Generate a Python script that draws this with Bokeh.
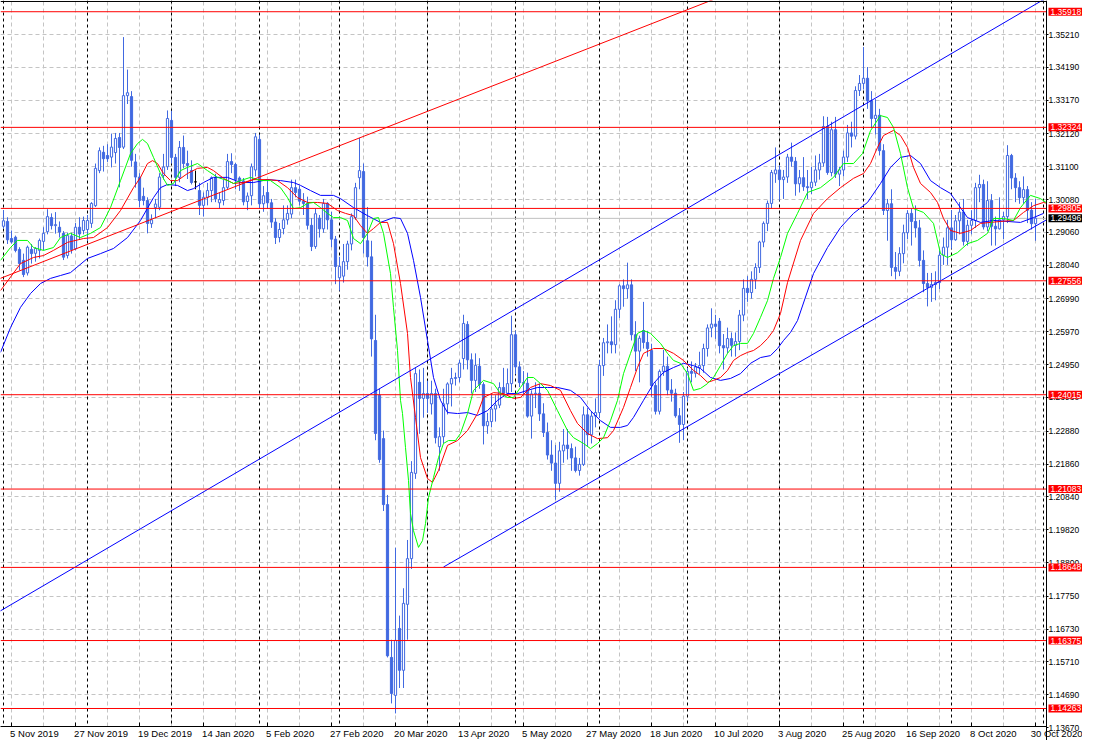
import pandas as pd
from bokeh.plotting import figure
from bokeh.models import Range1d, FixedTicker, PrintfTickFormatter, Span, Label, ColumnDataSource, LinearAxis
from bokeh.embed import file_html
from bokeh.resources import INLINE

# ---------------- data ----------------
holidays = ["2019-12-25", "2020-01-01"]
dates = [d for d in pd.bdate_range("2019-11-01", "2020-10-30") if d.strftime("%Y-%m-%d") not in holidays]

open_ = [
 1.2925,1.2940,1.2887,1.2891,1.2853,1.2819,1.2780,1.2853,1.2841,1.2850,1.2878,1.2908,1.2952,1.2927,1.2922,1.2903,1.2834,1.2895,1.2855,1.2922,1.2912,
 1.2915,1.2934,1.2989,1.3098,1.3155,1.3145,1.3140,1.3154,1.3201,1.3171,1.3331,1.3328,1.3125,1.3078,1.3018,1.3005,1.2933,1.2983,1.2984,1.3083,1.3110,
 1.3254,1.3139,1.3077,1.3170,1.3120,1.3098,1.3063,1.3036,1.2990,1.3015,1.3036,1.3076,1.2998,1.3005,1.3046,1.3126,1.3117,1.3075,1.3066,1.3002,1.3020,1.3100,
 1.3195,1.2995,1.3030,1.2998,1.2938,1.2890,1.2918,1.2945,1.2963,1.3045,1.3040,1.3003,1.2996,1.2928,1.2862,1.2950,1.2917,1.2996,1.2945,1.2885,
 1.2765,1.2770,1.2815,1.2870,1.2952,1.3076,1.3095,1.2880,1.2830,1.2570,1.2400,1.2265,1.2060,1.1585,1.1467,1.1675,1.1545,1.1750,1.1892,1.2157,1.2440,1.2390,
 1.2405,1.2373,1.2405,1.2240,1.2271,1.2373,1.2435,1.2452,1.2455,1.2514,1.2620,1.2510,1.2446,1.2490,1.2433,1.2305,1.2318,1.2357,1.2369,1.2424,1.2406,1.2436,
 1.2588,1.2488,1.2439,1.2437,1.2335,1.2404,1.2406,1.2342,1.2284,1.2214,1.2189,1.2126,1.2227,1.2245,1.2234,1.2205,1.2166,1.2185,1.2339,1.2277,1.2335,
 1.2346,1.2492,1.2563,1.2566,1.2557,1.2667,1.2740,1.2731,1.2743,1.2588,1.2537,1.2601,1.2564,1.2539,1.2430,1.2350,1.2474,1.2490,1.2416,1.2406,1.2336,1.2309,
 1.2397,1.2474,1.2468,1.2485,1.2492,1.2545,1.2609,1.2621,1.2630,1.2554,1.2547,1.2576,1.2555,1.2567,1.2649,1.2732,1.2719,1.2760,1.2797,1.2876,1.2934,1.2996,1.3088,
 1.3100,1.3070,1.3078,1.3140,1.3127,1.3057,1.3076,1.3048,1.3045,1.3062,1.3100,1.3122,1.3235,1.3092,1.3225,1.3087,1.3100,1.3140,1.3215,1.3205,1.3347,
 1.3369,1.3385,1.3315,1.3260,1.3270,1.3160,1.2974,1.2995,1.2797,1.2785,1.2840,1.2905,1.2965,1.2940,1.2920,1.2819,1.2747,1.2735,1.2744,1.2750,1.2835,1.2860,
 1.2920,1.2883,1.2942,1.2969,1.2878,1.2928,1.2943,1.3045,1.3055,1.2923,1.3005,1.2925,1.2917,1.2945,1.2955,1.3145,1.3075,1.3045,1.3014,1.3039,1.2975,1.2933,
]
high = [
 1.2975,1.2953,1.2912,1.2896,1.2860,1.2840,1.2865,1.2870,1.2860,1.2887,1.2922,1.2978,1.2965,1.2969,1.2940,1.2910,1.2905,1.2905,1.2935,1.2953,1.2955,
 1.2960,1.3000,1.3120,1.3170,1.3175,1.3180,1.3213,1.3215,1.3215,1.3513,1.3412,1.3345,1.3150,1.3090,1.3045,1.3015,1.2962,1.3010,1.3090,1.3150,1.3285,
 1.3284,1.3150,1.3190,1.3207,1.3160,1.3130,1.3098,1.3060,1.3030,1.3060,1.3080,1.3088,1.3030,1.3070,1.3150,1.3152,1.3122,1.3080,1.3075,1.3030,1.3120,1.3215,
 1.3210,1.3050,1.3070,1.3010,1.2950,1.2935,1.2990,1.2990,1.3070,1.3070,1.3050,1.3028,1.3017,1.2950,1.2980,1.2960,1.3010,1.3000,1.2970,1.2895,
 1.2830,1.2870,1.2880,1.2965,1.3060,1.3200,1.3120,1.2985,1.2880,1.2650,1.2420,1.2290,1.2090,1.1640,1.1926,1.1715,1.1800,1.1950,1.2195,1.2486,1.2480,1.2485,
 1.2445,1.2445,1.2420,1.2300,1.2420,1.2440,1.2485,1.2470,1.2510,1.2650,1.2630,1.2530,1.2530,1.2515,1.2440,1.2345,1.2405,1.2400,1.2440,1.2485,1.2483,1.2647,
 1.2600,1.2505,1.2475,1.2470,1.2415,1.2440,1.2435,1.2375,1.2315,1.2260,1.2245,1.2255,1.2295,1.2295,1.2250,1.2240,1.2205,1.2365,1.2360,1.2350,1.2390,
 1.2510,1.2578,1.2620,1.2645,1.2695,1.2745,1.2760,1.2812,1.2760,1.2630,1.2585,1.2690,1.2600,1.2560,1.2440,1.2480,1.2541,1.2520,1.2450,1.2420,1.2360,1.2410,
 1.2485,1.2505,1.2500,1.2535,1.2560,1.2620,1.2670,1.2650,1.2640,1.2590,1.2610,1.2595,1.2595,1.2665,1.2760,1.2770,1.2785,1.2810,1.2880,1.2940,1.3005,1.3100,1.3170,
 1.3115,1.3100,1.3150,1.3185,1.3140,1.3100,1.3140,1.3100,1.3110,1.3145,1.3150,1.3267,1.3265,1.3250,1.3265,1.3110,1.3160,1.3240,1.3250,1.3360,1.3395,
 1.3482,1.3420,1.3345,1.3320,1.3290,1.3180,1.3010,1.3040,1.2845,1.2860,1.2930,1.2975,1.2980,1.2990,1.2945,1.2850,1.2780,1.2780,1.2785,1.2850,1.2890,1.2945,
 1.2975,1.2960,1.3000,1.3010,1.2945,1.2975,1.3060,1.3085,1.3070,1.3065,1.3025,1.2955,1.3015,1.2970,1.3177,1.3150,1.3090,1.3065,1.3080,1.3050,1.3000,1.3010,
]
low = [
 1.2918,1.2870,1.2871,1.2844,1.2788,1.2767,1.2772,1.2809,1.2815,1.2825,1.2850,1.2900,1.2915,1.2902,1.2890,1.2820,1.2825,1.2840,1.2850,1.2883,1.2900,
 1.2880,1.2920,1.2985,1.3090,1.3095,1.3125,1.3108,1.3120,1.3046,1.3165,1.3305,1.3110,1.3045,1.2985,1.2990,1.2903,1.2920,1.2950,1.2975,1.3070,1.3100,
 1.3120,1.3050,1.3062,1.3105,1.3072,1.3055,1.3040,1.2960,1.2955,1.2990,1.3000,1.3000,1.2980,1.2990,1.3040,1.3090,1.3040,1.3035,1.2990,1.2975,1.2990,1.3080,
 1.2980,1.2970,1.2980,1.2920,1.2870,1.2875,1.2900,1.2930,1.2950,1.3015,1.2990,1.2960,1.2915,1.2848,1.2855,1.2890,1.2905,1.2915,1.2860,1.2745,
 1.2725,1.2750,1.2790,1.2850,1.2945,1.3040,1.2840,1.2800,1.2520,1.2260,1.2190,1.2040,1.1585,1.1442,1.1411,1.1490,1.1490,1.1640,1.1860,1.2140,1.2280,1.2330,
 1.2345,1.2340,1.2250,1.2165,1.2250,1.2340,1.2365,1.2430,1.2440,1.2480,1.2480,1.2405,1.2410,1.2420,1.2247,1.2280,1.2300,1.2318,1.2360,1.2395,1.2400,1.2410,
 1.2465,1.2425,1.2400,1.2330,1.2265,1.2360,1.2320,1.2270,1.2200,1.2165,1.2075,1.2100,1.2190,1.2200,1.2165,1.2160,1.2150,1.2180,1.2240,1.2250,1.2300,
 1.2330,1.2460,1.2530,1.2530,1.2530,1.2640,1.2675,1.2700,1.2570,1.2475,1.2440,1.2545,1.2520,1.2395,1.2340,1.2340,1.2460,1.2400,1.2380,1.2330,1.2252,1.2260,
 1.2380,1.2440,1.2455,1.2465,1.2470,1.2520,1.2580,1.2575,1.2530,1.2480,1.2530,1.2520,1.2520,1.2540,1.2630,1.2690,1.2700,1.2730,1.2780,1.2860,1.2910,1.2980,1.3060,
 1.3005,1.3010,1.3060,1.3110,1.3020,1.3030,1.3035,1.3010,1.3025,1.3050,1.3070,1.3110,1.3085,1.3080,1.3075,1.3050,1.3080,1.3125,1.3170,1.3195,1.3330,
 1.3350,1.3290,1.3230,1.3210,1.3145,1.2960,1.2880,1.2770,1.2760,1.2770,1.2810,1.2885,1.2865,1.2890,1.2800,1.2720,1.2676,1.2690,1.2695,1.2730,1.2805,1.2805,
 1.2855,1.2880,1.2900,1.2865,1.2865,1.2900,1.2920,1.3000,1.2915,1.2910,1.2865,1.2865,1.2915,1.2885,1.2935,1.3040,1.3000,1.2995,1.2995,1.2935,1.2915,1.2880,
]
close = [
 1.2942,1.2883,1.2876,1.2850,1.2809,1.2775,1.2860,1.2840,1.2856,1.2881,1.2903,1.2955,1.2927,1.2930,1.2907,1.2829,1.2896,1.2852,1.2922,1.2901,1.2943,
 1.2943,1.2996,1.3105,1.3160,1.3135,1.3135,1.3171,1.3198,1.3170,1.3331,1.3340,1.3130,1.3078,1.3005,1.3005,1.2934,1.2945,1.2994,1.3078,1.3109,1.3260,
 1.3139,1.3077,1.3170,1.3120,1.3114,1.3061,1.3063,1.2990,1.3015,1.3036,1.3076,1.3010,1.3008,1.3045,1.3126,1.3117,1.3070,1.3065,1.3001,1.3019,1.3110,1.3203,
 1.2995,1.3020,1.2998,1.2938,1.2890,1.2915,1.2945,1.2965,1.3045,1.3030,1.3003,1.2996,1.2928,1.2862,1.2964,1.2917,1.2996,1.2945,1.2885,1.2800,
 1.2800,1.2815,1.2870,1.2955,1.3045,1.3098,1.2890,1.2830,1.2575,1.2281,1.2200,1.2060,1.1590,1.1473,1.1638,1.1545,1.1753,1.1892,1.2160,1.2467,1.2390,1.2405,
 1.2390,1.2405,1.2268,1.2271,1.2373,1.2435,1.2452,1.2455,1.2500,1.2623,1.2510,1.2446,1.2493,1.2433,1.2305,1.2318,1.2357,1.2369,1.2424,1.2406,1.2436,1.2588,
 1.2488,1.2439,1.2437,1.2335,1.2404,1.2406,1.2342,1.2284,1.2214,1.2189,1.2126,1.2227,1.2245,1.2234,1.2205,1.2166,1.2185,1.2339,1.2277,1.2335,1.2346,
 1.2492,1.2563,1.2566,1.2557,1.2667,1.2740,1.2731,1.2743,1.2588,1.2537,1.2577,1.2564,1.2545,1.2430,1.2350,1.2474,1.2490,1.2416,1.2406,1.2336,1.2309,1.2397,
 1.2474,1.2468,1.2488,1.2492,1.2545,1.2609,1.2621,1.2614,1.2554,1.2547,1.2576,1.2555,1.2567,1.2649,1.2732,1.2719,1.2760,1.2797,1.2876,1.2934,1.2996,1.3092,1.3100,
 1.3070,1.3078,1.3140,1.3127,1.3057,1.3076,1.3048,1.3045,1.3062,1.3100,1.3122,1.3235,1.3092,1.3225,1.3087,1.3100,1.3140,1.3215,1.3205,1.3347,1.3369,
 1.3385,1.3315,1.3260,1.3270,1.3160,1.2974,1.2995,1.2797,1.2785,1.2840,1.2905,1.2965,1.2940,1.2920,1.2819,1.2747,1.2735,1.2744,1.2750,1.2835,1.2860,1.2920,
 1.2883,1.2942,1.2969,1.2878,1.2928,1.2943,1.3045,1.3055,1.2923,1.3005,1.2925,1.2917,1.2945,1.2955,1.3145,1.3075,1.3045,1.3014,1.3039,1.2975,1.2933,1.2950,
]

# Alligator lines (bar index, price)
lips_x = [-0.75,1.75,3.5,6,7.5,10,12.5,14.25,16.75,19.25,21.75,24.25,26.75,29.25,31.75,33.5,34.75,36,37.5,39.25,41,42.5,44.25,46,48.5,51,53.5,56,57.5,59.25,61.75,64.25,66.75,69.25,71,72.5,74.25,76,77.5,79.25,81,82.5,84.25,86,87.5,89.25,91,92.5,93.75,95,96.75,97.5,98.5,99.25,99.75,100.5,101.25,101.75,102.5,103.75,104.75,105.5,106.25,107.5,108.75,110,111.25,113,114.25,116,117.5,120,122.5,124.25,126,127.5,129.25,131,132.5,134.25,136,138.5,141,142.5,145,146.75,148.5,150,151.75,153.5,155,156.75,158.5,160,161.75,164.25,166,167.5,169.25,171,172.5,174.25,176,177.5,179.25,181,182.5,184.25,186,187.5,189.25,191,192.5,194.25,196,198.5,201,204.25,207.5,210,212.5,214.75,216.75,219.25,221,222.5,224.25,226,227.5,230,232.5,234.25,236,238.5,241,243.5,246,247.5,250,252.5,254.25,256.75,259.25,261]
lips_y = [1.2819,1.2859,1.2881,1.2881,1.2859,1.2850,1.2859,1.2890,1.2903,1.2890,1.2903,1.2921,1.2983,1.3067,1.3151,1.3182,1.3195,1.3182,1.3139,1.3089,1.3052,1.3058,1.3098,1.3108,1.3120,1.3098,1.3077,1.3067,1.3058,1.3067,1.3077,1.3067,1.3067,1.3045,1.3014,1.2980,1.2983,1.2996,1.2999,1.2983,1.2965,1.2952,1.2952,1.2943,1.2887,1.2871,1.2903,1.2949,1.2952,1.2903,1.2778,1.2672,1.2539,1.2384,1.2343,1.2237,1.2135,1.2032,1.1979,1.1927,1.1948,1.2001,1.2082,1.2144,1.2206,1.2250,1.2259,1.2259,1.2281,1.2343,1.2415,1.2446,1.2436,1.2405,1.2393,1.2393,1.2424,1.2455,1.2455,1.2436,1.2415,1.2352,1.2290,1.2268,1.2250,1.2234,1.2250,1.2268,1.2321,1.2384,1.2467,1.2530,1.2592,1.2601,1.2592,1.2561,1.2530,1.2508,1.2499,1.2467,1.2415,1.2421,1.2436,1.2455,1.2492,1.2530,1.2554,1.2561,1.2561,1.2592,1.2642,1.2694,1.2763,1.2828,1.2903,1.2965,1.3030,1.3045,1.3077,1.3120,1.3120,1.3151,1.3222,1.3269,1.3263,1.3232,1.3151,1.3045,1.2980,1.2968,1.2934,1.2840,1.2828,1.2843,1.2871,1.2881,1.2903,1.2949,1.2949,1.2943,1.2983,1.3021,1.3011,1.2996]

teeth_x = [-0.75,4.25,7.5,10,12.5,16,20,22.5,26,29.25,32.5,34.25,36,37.25,38.5,40,41.75,43.5,46,48.5,51,52.5,55,57.5,60,62.5,66,68.5,71,73.5,76,78.5,81,83.5,85.5,87.5,89.25,91,92.5,94.25,96,97.5,99.25,101,101.75,103,104.25,106,107.25,108.75,111,113.5,116,118.5,120,122.5,125,127.5,129.25,131.75,134.25,136.75,139.25,141.75,143.5,146,148.5,151,152.5,155,156.75,158.5,160,162.5,165,167.5,170,172.5,174.25,176,177.5,179.25,181,182.5,184.25,186,187.5,189.25,191,192.5,194.25,196,199.25,202.5,206,209.25,212.5,215,216.75,218.5,220,222.5,224.25,226,227.5,229.25,231.75,233.5,235,236.75,239.25,241.75,244.25,246.75,249.25,252.5,255,257.5,260,261]
teeth_y = [1.2725,1.2809,1.2828,1.2834,1.2850,1.2875,1.2887,1.2890,1.2921,1.2974,1.3045,1.3077,1.3120,1.3129,1.3120,1.3089,1.3067,1.3067,1.3089,1.3105,1.3108,1.3098,1.3074,1.3058,1.3061,1.3070,1.3070,1.3067,1.3045,1.3014,1.2999,1.2999,1.2996,1.2974,1.2965,1.2958,1.2927,1.2903,1.2918,1.2937,1.2937,1.2871,1.2747,1.2592,1.2455,1.2331,1.2206,1.2141,1.2129,1.2166,1.2244,1.2259,1.2290,1.2343,1.2393,1.2408,1.2405,1.2390,1.2393,1.2424,1.2436,1.2430,1.2415,1.2352,1.2312,1.2281,1.2265,1.2268,1.2290,1.2362,1.2424,1.2486,1.2530,1.2545,1.2545,1.2530,1.2508,1.2477,1.2461,1.2440,1.2446,1.2455,1.2477,1.2508,1.2523,1.2533,1.2539,1.2554,1.2576,1.2601,1.2654,1.2750,1.2881,1.2965,1.3011,1.3045,1.3074,1.3089,1.3120,1.3170,1.3207,1.3223,1.3207,1.3170,1.3108,1.3058,1.3030,1.2999,1.2949,1.2912,1.2903,1.2912,1.2934,1.2937,1.2940,1.2943,1.2968,1.2989,1.2999,1.2996]

jaw_x = [-0.75,1.75,4.25,6.75,9.25,11.75,14.25,16.75,21,24.25,27.5,31,34.25,37.5,39.25,41,43.5,46,47.5,50,52.5,56,59.25,62.5,66,69.25,72.5,74.25,76.75,79.25,82.5,84.25,87.5,91,94.25,97.5,99.25,101,102.5,104.25,106,107.5,109.25,111,113.5,116,118.5,121,123.5,126,128.5,131,133.5,136,138.5,141.75,144.25,146.75,149.25,151.75,154.25,156,157.5,160,162.5,165,167.5,170,172.5,174.25,176.75,179.25,181.75,184.25,186.75,189.25,191.75,193.5,195,196.75,198.5,202.5,206,209.25,212.5,216,219.25,221.75,224.25,226.75,229.25,231.75,234.25,236.75,238.5,241,244.25,247.5,251,254.25,257.5,260]
jaw_y = [1.2533,1.2610,1.2673,1.2716,1.2747,1.2763,1.2772,1.2781,1.2825,1.2840,1.2856,1.2890,1.2943,1.3014,1.3045,1.3055,1.3052,1.3036,1.3042,1.3061,1.3077,1.3077,1.3061,1.3061,1.3070,1.3067,1.3061,1.3052,1.3036,1.3021,1.3021,1.3011,1.2983,1.2958,1.2937,1.2952,1.2949,1.2903,1.2819,1.2704,1.2570,1.2455,1.2384,1.2346,1.2343,1.2346,1.2337,1.2352,1.2384,1.2405,1.2405,1.2415,1.2424,1.2424,1.2424,1.2415,1.2393,1.2352,1.2321,1.2300,1.2300,1.2306,1.2331,1.2384,1.2436,1.2471,1.2486,1.2499,1.2492,1.2483,1.2455,1.2446,1.2452,1.2467,1.2499,1.2517,1.2523,1.2545,1.2570,1.2595,1.2632,1.2778,1.2859,1.2921,1.2965,1.2999,1.3058,1.3108,1.3139,1.3145,1.3120,1.3067,1.3045,1.3027,1.2996,1.2952,1.2937,1.2943,1.2940,1.2937,1.2952,1.2965]

# drawn objects
red_tl_x, red_tl_y = [-1, 180], [1.2762, 1.3642]
chan_up_x, chan_up_y = [-1, 262], [1.1728, 1.3644]
chan_lo_x, chan_lo_y = [110, 262], [1.1866, 1.2954]
red_levels = [1.35918, 1.32324, 1.29805, 1.27556, 1.24015, 1.21083, 1.18648, 1.16375, 1.14263]
bid = 1.29496

y_ticks = [1.35210, 1.34190, 1.33170, 1.32120, 1.31100, 1.30080, 1.29060, 1.28040, 1.26990, 1.25970, 1.24950,
           1.23930, 1.22880, 1.21860, 1.20840, 1.19820, 1.18800, 1.17750, 1.16730, 1.15710, 1.14690, 1.13670]

# ---------------- layout constants ----------------
CANDLE = "#4169E1"
FONT = "Liberation Sans"
X0, X1 = -0.75, 269.75          # bar-index range across the canvas
Y0, Y1 = 1.13268, 1.36267       # price range down/up the canvas
PRICE_AXIS_AT = 260.75          # bar-index position of the price scale
TIME_AXIS_AT = 1.13703          # price position of the time scale
TOP_EDGE = 1.36236
TAG_X = 261.25

p = figure(width=1082, height=740, x_range=Range1d(X0, X1), y_range=Range1d(Y0, Y1),
           y_axis_location="right", output_backend="svg", toolbar_location=None,
           min_border_left=0, min_border_top=0, min_border_right=0, min_border_bottom=0)
p.outline_line_color = None
p.background_fill_color = "white"
p.border_fill_color = "white"

# grid
p.xgrid.ticker = FixedTicker(ticks=list(range(2, 262, 8)))
p.ygrid.ticker = FixedTicker(ticks=y_ticks)
p.grid.grid_line_color = "#C4C4C4"
p.grid.grid_line_dash = "4 3"
p.grid.grid_line_width = 1

# month separators
seps = [i for i in range(len(dates)) if i == 0 or dates[i].month != dates[i - 1].month] + [len(dates) + 1]
for s in seps:
    p.add_layout(Span(location=s, dimension="height", line_color="black", line_dash="3 3", line_width=1, level="underlay"))

# bid line
p.segment(x0=[X0], y0=[bid], x1=[PRICE_AXIS_AT], y1=[bid], line_color="#C0C0C0", line_width=1)

# candles
xs = list(range(len(dates)))
body_fill, body_line = [], []
for o, c in zip(open_, close):
    if c > o:
        body_fill.append("white"); body_line.append(CANDLE)
    elif c < o:
        body_fill.append(CANDLE); body_line.append(CANDLE)
    else:
        body_fill.append("black"); body_line.append("black")
src = ColumnDataSource(dict(x=xs, h=high, l=low,
                            top=[max(a, b) for a, b in zip(open_, close)],
                            bot=[min(a, b) for a, b in zip(open_, close)],
                            fill=body_fill, line=body_line))
p.segment(x0="x", y0="l", x1="x", y1="h", line_color="line", line_width=1, source=src)
p.vbar(x="x", width=0.55, top="top", bottom="bot", fill_color="fill", line_color="line", line_width=1, source=src)

# alligator
p.line(jaw_x, jaw_y, line_color="#0000FF", line_width=1)
p.line(teeth_x, teeth_y, line_color="#FF0000", line_width=1)
p.line(lips_x, lips_y, line_color="#00FF00", line_width=1)

# trendlines / channel
p.line(red_tl_x, red_tl_y, line_color="#FF0000", line_width=1)
p.line(chan_up_x, chan_up_y, line_color="#0000FF", line_width=1)
p.line(chan_lo_x, chan_lo_y, line_color="#0000FF", line_width=1)

# horizontal levels
p.segment(x0=[X0] * len(red_levels), y0=red_levels, x1=[PRICE_AXIS_AT] * len(red_levels), y1=red_levels,
          line_color="#FF0000", line_width=1)
# top border
p.segment(x0=[X0], y0=[TOP_EDGE], x1=[PRICE_AXIS_AT], y1=[TOP_EDGE], line_color="black", line_width=1)

# white margins of the scales (right of the price axis, below the time axis)
p.quad(left=[PRICE_AXIS_AT, X0 - 1], right=[X1 + 1, X1 + 1], bottom=[Y0 - 0.01, Y0 - 0.01],
       top=[Y1 + 0.01, TIME_AXIS_AT], fill_color="white", line_color=None)

# price axis
p.yaxis.fixed_location = PRICE_AXIS_AT
p.yaxis.ticker = FixedTicker(ticks=y_ticks)
p.yaxis.formatter = PrintfTickFormatter(format="%.5f")
p.yaxis.major_label_text_font = FONT
p.yaxis.major_label_text_font_size = "8.5px"
p.yaxis.major_label_text_color = "black"
p.yaxis.axis_line_color = "black"
p.yaxis.major_tick_line_color = "black"
p.yaxis.major_tick_in = 0
p.yaxis.major_tick_out = 2
p.yaxis.minor_tick_in = 0
p.yaxis.minor_tick_out = 0
p.yaxis.major_label_standoff = 0

# time axis: labels start at their tick, as in the reference
CW = {" ": .278, "N": .722, "o": .556, "v": .5, "D": .722, "e": .556, "c": .5, "J": .5, "a": .556, "n": .556,
      "F": .611, "b": .556, "M": .833, "r": .333, "A": .667, "p": .556, "y": .5, "u": .556, "l": .222,
      "g": .556, "S": .667, "O": .778, "t": .278}
XFS = 9.5
x_ticks = list(range(2, len(dates), 16))
lab_pos, lab_txt = [], {}
for t in x_ticks:
    s = f"{dates[t].day} {dates[t].strftime('%b %Y')}"
    w = sum(CW.get(ch, .556) for ch in s) * XFS
    pos = round(t + (w / 2 - 1.4) / 4.0, 3)
    lab_pos.append(pos)
    lab_txt[pos] = s
xa = p.xaxis[0]
xa.fixed_location = TIME_AXIS_AT
xa.bounds = (X0, PRICE_AXIS_AT)
xa.ticker = FixedTicker(ticks=lab_pos)
xa.major_label_overrides = lab_txt
xa.major_label_text_font = FONT
xa.major_label_text_font_size = f"{XFS}px"
xa.major_label_text_color = "black"
xa.axis_line_color = "black"
xa.major_tick_line_color = None
xa.minor_tick_line_color = None
xa.major_tick_out = 0
xa.major_tick_in = 0
xa.major_label_standoff = 1

ta = LinearAxis(ticker=FixedTicker(ticks=x_ticks), major_label_overrides={t: "" for t in x_ticks},
                fixed_location=TIME_AXIS_AT, bounds=(X0, PRICE_AXIS_AT), axis_line_color="black",
                major_tick_line_color="black", major_tick_in=4, major_tick_out=0,
                minor_tick_line_color=None, major_label_text_font_size="1px")
p.add_layout(ta, "below")

# price tags
for v, bg in [(v, "#FF0000") for v in red_levels] + [(bid, "black")]:
    p.add_layout(Label(x=TAG_X, y=v, text=f"{v:.5f}", text_color="white", text_font=FONT,
                       text_font_size="8.5px", text_align="left", text_baseline="middle",
                       background_fill_color=bg, padding=(2, 1)))

open("out.html", "w").write(file_html(p, INLINE))
